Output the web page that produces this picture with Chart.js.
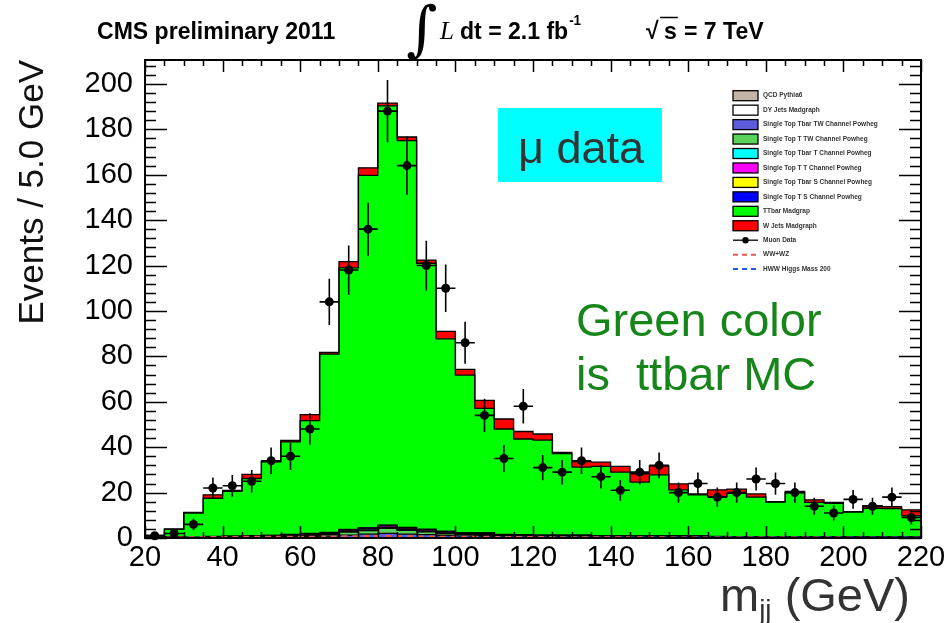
<!DOCTYPE html>
<html>
<head>
<meta charset="utf-8">
<script src="https://cdn.jsdelivr.net/npm/chart.js@4.4.1/dist/chart.umd.min.js"></script>
<style>
  html, body { margin: 0; padding: 0; background: #fff; }
</style>
</head>
<body>
<canvas id="c" width="946" height="623"></canvas>
<script>
// m_jj distribution, 5 GeV bins from 20 to 220 GeV (muon channel, CMS 2011)
// bin edges; histogram values are per bin (40 bins)
const EDGES = [20,25,30,35,40,45,50,55,60,65,70,75,80,85,90,95,100,105,110,115,120,
  125,130,135,140,145,150,155,160,165,170,175,180,185,190,195,200,205,210,215,220];

// MC components, stacked bottom to top in this order
const QCD = [0,0,0,0,0,0,0,0,0,0, 0,0,0,0,0,0,0,0,0,0,
  0,0,0,0,0,0,0,0,0,0, 0,0,0,0,0,0,0,0,0,0];
const DY = [0.8,0.4,0.2,0.2,0.2,0.2,0.2,0.2,0.2,0.2, 0.2,0.2,0.2,0.2,0.2,0.2,0.2,0.2,0.1,0.1,
  0.1,0.1,0.1,0.1,0.1,0.1,0.1,0.1,0.1,0.1, 0.1,0.1,0.1,0.1,0.1,0.1,0.1,0.1,0.1,0.1];
const ST_TBAR_TW = [0,0,0,0.1,0.1,0.2,0.2,0.3,0.4,0.6, 1.1,1.5,1.8,1.5,1.3,0.9,0.6,0.5,0.4,0.4,
  0.3,0.3,0.3,0.2,0.2,0.2,0.2,0.2,0.2,0.1, 0.1,0.1,0.1,0.1,0.1,0.1,0.1,0.1,0.1,0.1];
const ST_T_TW = [0,0,0,0.1,0.1,0.2,0.2,0.3,0.4,0.7, 1.3,1.6,2.2,1.7,1.2,0.8,0.6,0.5,0.4,0.4,
  0.3,0.3,0.3,0.2,0.2,0.2,0.2,0.2,0.2,0.1, 0.1,0.1,0.1,0.1,0.1,0.1,0.1,0.1,0.1,0.1];
const ST_TBAR_T = [0,0,0,0.1,0.1,0.1,0.1,0.2,0.2,0.2, 0.3,0.3,0.4,0.3,0.3,0.3,0.2,0.3,0.2,0.2,
  0.2,0.2,0.2,0.1,0.1,0.1,0.1,0.1,0.1,0.1, 0.1,0.1,0.1,0.1,0.1,0.1,0.1,0.1,0.1,0.1];
const ST_T_T = [0,0,0.1,0.1,0.2,0.2,0.3,0.4,0.5,0.5, 0.6,0.6,0.8,0.7,0.6,0.5,0.4,0.5,0.3,0.3,
  0.3,0.3,0.3,0.2,0.2,0.2,0.2,0.2,0.2,0.2, 0.1,0.1,0.1,0.1,0.1,0.1,0.1,0.1,0.1,0.1];
const ST_TBAR_S = [0,0,0,0,0,0,0.1,0.1,0.1,0.1, 0.1,0.1,0.1,0.1,0.1,0.1,0.1,0.1,0.1,0,
  0,0,0,0,0,0,0,0,0,0, 0,0,0,0,0,0,0,0,0,0];
const ST_T_S = [0,0,0,0.1,0.1,0.1,0.1,0.1,0.2,0.2, 0.2,0.2,0.2,0.2,0.2,0.2,0.2,0.2,0.1,0.1,
  0.1,0.1,0.1,0.1,0.1,0.1,0.1,0.1,0.1,0.1, 0.1,0.1,0.1,0.1,0.1,0.1,0.1,0.1,0.1,0.1];
const TTBAR = [0.3,3.4,10.7,16.8,19.7,25.2,32.3,40.7,49.7,78.5, 115.2,155.2,184.6,170.3,117.1,84.7,69.4,54.8,46.4,42.1,
  41.8,35.9,29.9,30.6,28.1,23.7,26.9,20.3,18.1,17.5, 19.1,17.4,15.2,19.4,15.1,14.7,10.8,12.5,12.4,9.1];
const WJETS = [0,0.2,0.3,1.5,0.5,1.8,0.5,0.7,2.6,0.7, 2.7,3.3,1.2,1.6,1.4,3.3,2.6,3.5,4.4,3.3,
  2.7,0.5,2.4,1.9,2.5,3.7,4.0,2.6,0.4,3.0, 1.8,1.4,0.2,0.5,1.1,0.4,0.2,1.2,0.8,2.7];

// overlaid (not stacked) curves
const WW_WZ = [0.1,0.2,0.3,0.4,0.4,0.5,0.5,0.6,0.6,0.7, 0.8,0.9,0.9,0.8,0.7,0.6,0.5,0.5,0.4,0.4,
  0.4,0.3,0.3,0.3,0.3,0.3,0.3,0.2,0.2,0.2, 0.2,0.2,0.2,0.2,0.2,0.2,0.1,0.1,0.1,0.1];
const HWW_200 = [0,0,0.1,0.1,0.1,0.1,0.1,0.1,0.1,0.1, 0.2,0.2,0.2,0.2,0.2,0.2,0.2,0.2,0.2,0.2,
  0.2,0.2,0.2,0.2,0.2,0.2,0.2,0.2,0.2,0.2, 0.2,0.2,0.2,0.2,0.2,0.2,0.2,0.2,0.2,0.2];

// muon data counts
const MUON_DATA = [1,2,6,22,23,25,34,36,48,104, 118,136,188,164,120,110,86,54,35,58,
  31,29,34,27,21,29,32,20,24,18, 20,26,24,20,14,11,17,14,18,9];

const STACK = [
  { label: "QCD Pythia6",                      color: "#c2b5a8", vals: QCD },
  { label: "DY Jets Madgraph",                 color: "#ffffff", vals: DY },
  { label: "Single Top Tbar TW Channel Powheg", color: "#5b5bdc", vals: ST_TBAR_TW },
  { label: "Single Top T TW Channel Powheg",    color: "#5ad35a", vals: ST_T_TW },
  { label: "Single Top Tbar T Channel Powheg",  color: "#00ffff", vals: ST_TBAR_T },
  { label: "Single Top T T Channel Powheg",     color: "#ff00ff", vals: ST_T_T },
  { label: "Single Top Tbar S Channel Powheg",  color: "#ffff00", vals: ST_TBAR_S },
  { label: "Single Top T S Channel Powheg",     color: "#0000ff", vals: ST_T_S },
  { label: "TTbar Madgrap",                     color: "#00ff00", vals: TTBAR },
  { label: "W Jets Madgraph",                   color: "#ff0000", vals: WJETS },
];
const NB = EDGES.length - 1;
const SANS = '"Liberation Sans", Arial, Helvetica, sans-serif';

// histogram as a stepped line: one point per low edge, plus the upper edge repeating the last bin
function histPoints(vals) {
  return EDGES.map((x, k) => ({ x: x, y: vals[Math.min(k, NB - 1)] }));
}

const datasets = [];
let base = new Array(NB).fill(0);
STACK.forEach(function (s, i) {
  const cum = base.map((b, k) => Math.round((b + s.vals[k]) * 100) / 100);
  datasets.push({
    label: s.label,
    data: histPoints(cum),
    stepped: "before",
    borderColor: "#000",
    borderWidth: 1.3,
    backgroundColor: s.color,
    fill: i === 0 ? "origin" : "-1",
    pointRadius: 0,
  });
  base = cum;
});

datasets.push({
  label: "WW+WZ", data: histPoints(WW_WZ), stepped: "before",
  borderColor: "#e05a5a", borderWidth: 2, borderDash: [6, 5], fill: false, pointRadius: 0, order: -1,
});
datasets.push({
  label: "HWW Higgs Mass 200", data: histPoints(HWW_200), stepped: "before",
  borderColor: "#1d5cf0", borderWidth: 2, borderDash: [6, 5], fill: false, pointRadius: 0, order: -1,
});
datasets.push({
  label: "Muon Data", isData: true,
  data: MUON_DATA.map((n, k) => ({ x: (EDGES[k] + EDGES[k + 1]) / 2, y: n })),
  showLine: false, pointRadius: 4.5, pointBackgroundColor: "#000", pointBorderColor: "#000",
  pointBorderWidth: 0, clip: false, order: -2,
});

// Poisson error bars (sqrt N) and half-bin horizontal bars under the data markers
const errorBars = {
  id: "errorBars",
  beforeDatasetDraw(chart, args) {
    const ds = chart.data.datasets[args.index];
    if (!ds.isData) return;
    const { ctx, scales: { x, y } } = chart;
    ctx.save();
    ctx.strokeStyle = "#000";
    ctx.lineWidth = 1.6;
    ctx.beginPath();
    ds.data.forEach(function (p) {
      const e = Math.sqrt(p.y);
      const px = x.getPixelForValue(p.x), py = y.getPixelForValue(p.y);
      ctx.moveTo(px, y.getPixelForValue(p.y - e));
      ctx.lineTo(px, y.getPixelForValue(p.y + e));
      ctx.moveTo(x.getPixelForValue(p.x - 2.5), py);
      ctx.lineTo(x.getPixelForValue(p.x + 2.5), py);
    });
    ctx.stroke();
    ctx.restore();
  },
};

// ROOT style frame with inward ticks on all four sides
const frameTicks = {
  id: "frameTicks",
  afterDatasetsDraw(chart) {
    const { ctx, chartArea: a, scales: { x, y } } = chart;
    ctx.save();
    ctx.strokeStyle = "#000";
    ctx.lineWidth = 1.5;
    ctx.beginPath();
    for (let v = x.min; v <= x.max; v += 5) {
      const px = Math.round(x.getPixelForValue(v)) + 0.5;
      const len = (v - x.min) % 20 === 0 ? 12 : 6;
      ctx.moveTo(px, a.bottom); ctx.lineTo(px, a.bottom - len);
      ctx.moveTo(px, a.top); ctx.lineTo(px, a.top + len);
    }
    for (let v = 0; v <= y.max; v += 4) {
      const py = Math.round(y.getPixelForValue(v)) + 0.5;
      const len = v % 20 === 0 ? 22 : 11;
      ctx.moveTo(a.left, py); ctx.lineTo(a.left + len, py);
      ctx.moveTo(a.right, py); ctx.lineTo(a.right - len, py);
    }
    ctx.stroke();
    ctx.lineWidth = 2;
    ctx.strokeRect(a.left, a.top, a.right - a.left, a.bottom - a.top);
    ctx.restore();
  },
};

// titles, header, text boxes and the legend
const annotations = {
  id: "annotations",
  afterDraw(chart) {
    const ctx = chart.ctx;
    const SX = 0.96; // header glyphs are slightly condensed
    ctx.save();
    ctx.textBaseline = "alphabetic";

    // header line
    ctx.fillStyle = "#000";
    ctx.save();
    ctx.scale(SX, 1);
    ctx.font = "bold 24px " + SANS;
    ctx.fillText("CMS preliminary 2011", 97 / SX, 39);
    ctx.fillText("dt = 2.1 fb", 460 / SX, 39);
    const fbEnd = 460 / SX + ctx.measureText("dt = 2.1 fb").width;
    ctx.font = "bold 14px " + SANS;
    ctx.fillText("-1", fbEnd + 1, 25);
    ctx.font = "bold 24px " + SANS;
    ctx.fillText("\u221A", 646 / SX, 39);
    ctx.fillText("s", 664 / SX, 39);
    const sW = ctx.measureText("s").width;
    ctx.fillText("= 7 TeV", 684 / SX, 39);
    ctx.restore();
    ctx.lineWidth = 1.5;
    ctx.beginPath();
    ctx.moveTo(660, 17.5);
    ctx.lineTo(664 + sW * SX + 1, 17.5);
    ctx.stroke();
    ctx.font = "60px \"DejaVu Serif\", serif";
    ctx.fillText("\u222B", 406, 49);
    ctx.font = "italic 25px \"Liberation Serif\", serif";
    ctx.fillText("L", 440, 39);

    // y axis title, aligned to the top of the axis
    ctx.save();
    ctx.translate(43, 60);
    ctx.rotate(-Math.PI / 2);
    ctx.textAlign = "right";
    ctx.font = "35px " + SANS;
    ctx.fillStyle = "#111";
    ctx.fillText("Events / 5.0 GeV", 0, 0);
    ctx.restore();

    // x axis title m_jj (GeV), right aligned
    ctx.fillStyle = "#333";
    ctx.font = "47px " + SANS;
    const mW = ctx.measureText("m").width;
    const gevW = ctx.measureText(" (GeV)").width;
    ctx.font = "28px " + SANS;
    const jjW = ctx.measureText("jj").width;
    const x0 = 910 - mW - jjW - gevW;
    ctx.font = "47px " + SANS;
    ctx.fillText("m", x0, 611);
    ctx.fillText(" (GeV)", x0 + mW + jjW, 611);
    ctx.font = "28px " + SANS;
    ctx.fillText("jj", x0 + mW, 619);

    // mu data label box
    ctx.fillStyle = "#00ffff";
    ctx.fillRect(498, 108, 164, 74);
    ctx.fillStyle = "#333";
    ctx.font = "45px " + SANS;
    ctx.textAlign = "center";
    ctx.fillText("\u03BC data", 581, 163);
    ctx.textAlign = "left";

    // note in green
    ctx.fillStyle = "#17861a";
    ctx.font = "47px " + SANS;
    ctx.fillText("Green color", 576, 336);
    ctx.fillText("is  ttbar MC", 576, 390);

    // legend, same order as the stack list, then data and the overlays
    const LX = 733, LW = 25, TX = 763, Y0 = 95.7, DY_ = 14.45;
    ctx.font = "bold 6.5px " + SANS;
    ctx.textBaseline = "middle";
    STACK.forEach(function (s, i) {
      const yc = Y0 + i * DY_;
      ctx.fillStyle = s.color;
      ctx.fillRect(LX, yc - 5, LW, 10);
      ctx.strokeStyle = "#000";
      ctx.lineWidth = 1.3;
      ctx.strokeRect(LX, yc - 5, LW, 10);
      ctx.fillStyle = "#333";
      ctx.fillText(s.label, TX, yc);
    });
    const yc = Y0 + STACK.length * DY_;
    ctx.strokeStyle = "#000";
    ctx.lineWidth = 1.3;
    ctx.beginPath(); ctx.moveTo(LX, yc); ctx.lineTo(LX + LW, yc); ctx.stroke();
    ctx.fillStyle = "#000";
    ctx.beginPath(); ctx.arc(LX + LW / 2, yc, 3.2, 0, Math.PI * 2); ctx.fill();
    ctx.fillStyle = "#333";
    ctx.fillText("Muon Data", TX, yc);
    [datasets[STACK.length], datasets[STACK.length + 1]].forEach(function (ds, j) {
      const y2 = Y0 + (STACK.length + 1 + j) * DY_;
      ctx.strokeStyle = ds.borderColor;
      ctx.lineWidth = 2;
      ctx.setLineDash([5, 4]);
      ctx.beginPath(); ctx.moveTo(LX, y2); ctx.lineTo(LX + LW, y2); ctx.stroke();
      ctx.setLineDash([]);
      ctx.fillStyle = "#333";
      ctx.fillText(ds.label, TX, y2);
    });
    ctx.restore();
  },
};

const tickFont = { family: SANS, size: 29 };

new Chart(document.getElementById("c"), {
  type: "line",
  data: { datasets: datasets },
  options: {
    responsive: false,
    animation: false,
    events: [],
    layout: { padding: { top: 60, right: 25, left: 0, bottom: 0 } },
    scales: {
      x: {
        type: "linear", min: 20, max: 220,
        afterFit: function (s) { s.height = 85; },
        grid: { display: false },
        border: { display: false },
        ticks: { stepSize: 20, font: tickFont, color: "#000", padding: -5, maxRotation: 0, autoSkip: false },
      },
      y: {
        type: "linear", min: 0, max: 210.5,
        afterFit: function (s) { s.width = 145; },
        grid: { display: false },
        border: { display: false },
        ticks: { stepSize: 20, includeBounds: false, font: tickFont, color: "#000", padding: 4, autoSkip: false },
      },
    },
    plugins: {
      legend: { display: false },
      tooltip: { enabled: false },
      filler: { drawTime: "beforeDatasetsDraw" },
    },
  },
  plugins: [errorBars, frameTicks, annotations],
});
</script>
</body>
</html>
